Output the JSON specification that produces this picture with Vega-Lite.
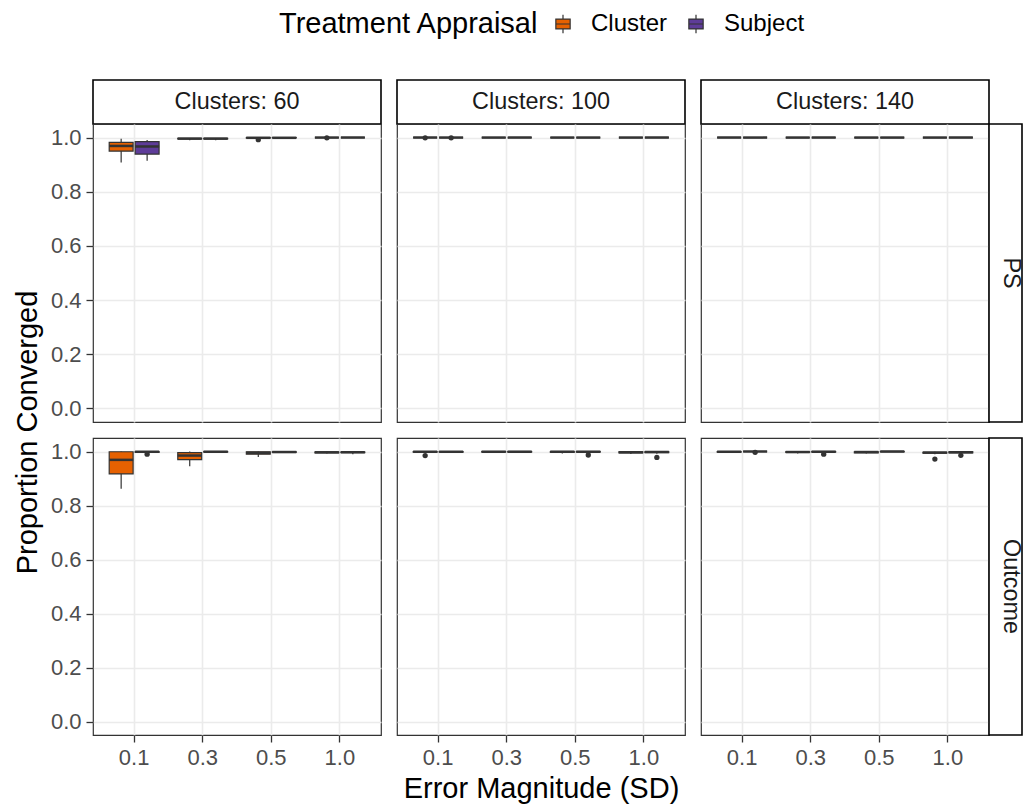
{
  "$schema": "https://vega.github.io/schema/vega-lite/v6.json",
  "usermeta": {"embedOptions": {"actions": false}},
  "padding": {"left": 12, "top": 12, "right": 0, "bottom": 0},
  "datasets": {
    "boxes": [
      {"c": 60, "m": "PS", "err": "0.1", "appraisal": "Cluster", "lo": 0.908, "q1": 0.950, "med": 0.969, "q3": 0.982, "hi": 0.996},
      {"c": 60, "m": "PS", "err": "0.1", "appraisal": "Subject", "lo": 0.914, "q1": 0.939, "med": 0.967, "q3": 0.985, "hi": 0.991},
      {"c": 60, "m": "PS", "err": "0.3", "appraisal": "Cluster", "lo": 0.990, "q1": 0.995, "med": 0.996, "q3": 0.997, "hi": 0.998},
      {"c": 60, "m": "PS", "err": "0.3", "appraisal": "Subject", "lo": 0.990, "q1": 0.995, "med": 0.996, "q3": 0.997, "hi": 0.998},
      {"c": 60, "m": "PS", "err": "0.5", "appraisal": "Cluster", "lo": 0.997, "q1": 0.998, "med": 0.999, "q3": 1, "hi": 1},
      {"c": 60, "m": "PS", "err": "0.5", "appraisal": "Subject", "lo": 0.998, "q1": 0.999, "med": 0.999, "q3": 1, "hi": 1},
      {"c": 60, "m": "PS", "err": "1.0", "appraisal": "Cluster", "lo": 1, "q1": 1, "med": 1, "q3": 1, "hi": 1},
      {"c": 60, "m": "PS", "err": "1.0", "appraisal": "Subject", "lo": 1, "q1": 1, "med": 1, "q3": 1, "hi": 1},
      {"c": 100, "m": "PS", "err": "0.1", "appraisal": "Cluster", "lo": 1, "q1": 1, "med": 1, "q3": 1, "hi": 1},
      {"c": 100, "m": "PS", "err": "0.1", "appraisal": "Subject", "lo": 1, "q1": 1, "med": 1, "q3": 1, "hi": 1},
      {"c": 100, "m": "PS", "err": "0.3", "appraisal": "Cluster", "lo": 1, "q1": 1, "med": 1, "q3": 1, "hi": 1},
      {"c": 100, "m": "PS", "err": "0.3", "appraisal": "Subject", "lo": 1, "q1": 1, "med": 1, "q3": 1, "hi": 1},
      {"c": 100, "m": "PS", "err": "0.5", "appraisal": "Cluster", "lo": 1, "q1": 1, "med": 1, "q3": 1, "hi": 1},
      {"c": 100, "m": "PS", "err": "0.5", "appraisal": "Subject", "lo": 1, "q1": 1, "med": 1, "q3": 1, "hi": 1},
      {"c": 100, "m": "PS", "err": "1.0", "appraisal": "Cluster", "lo": 1, "q1": 1, "med": 1, "q3": 1, "hi": 1},
      {"c": 100, "m": "PS", "err": "1.0", "appraisal": "Subject", "lo": 1, "q1": 1, "med": 1, "q3": 1, "hi": 1},
      {"c": 140, "m": "PS", "err": "0.1", "appraisal": "Cluster", "lo": 1, "q1": 1, "med": 1, "q3": 1, "hi": 1},
      {"c": 140, "m": "PS", "err": "0.1", "appraisal": "Subject", "lo": 1, "q1": 1, "med": 1, "q3": 1, "hi": 1},
      {"c": 140, "m": "PS", "err": "0.3", "appraisal": "Cluster", "lo": 1, "q1": 1, "med": 1, "q3": 1, "hi": 1},
      {"c": 140, "m": "PS", "err": "0.3", "appraisal": "Subject", "lo": 1, "q1": 1, "med": 1, "q3": 1, "hi": 1},
      {"c": 140, "m": "PS", "err": "0.5", "appraisal": "Cluster", "lo": 1, "q1": 1, "med": 1, "q3": 1, "hi": 1},
      {"c": 140, "m": "PS", "err": "0.5", "appraisal": "Subject", "lo": 1, "q1": 1, "med": 1, "q3": 1, "hi": 1},
      {"c": 140, "m": "PS", "err": "1.0", "appraisal": "Cluster", "lo": 1, "q1": 1, "med": 1, "q3": 1, "hi": 1},
      {"c": 140, "m": "PS", "err": "1.0", "appraisal": "Subject", "lo": 1, "q1": 1, "med": 1, "q3": 1, "hi": 1},
      {"c": 60, "m": "Outcome", "err": "0.1", "appraisal": "Cluster", "lo": 0.862, "q1": 0.917, "med": 0.969, "q3": 0.999, "hi": 1},
      {"c": 60, "m": "Outcome", "err": "0.1", "appraisal": "Subject", "lo": 0.995, "q1": 0.997, "med": 0.999, "q3": 1, "hi": 1},
      {"c": 60, "m": "Outcome", "err": "0.3", "appraisal": "Cluster", "lo": 0.945, "q1": 0.970, "med": 0.985, "q3": 0.996, "hi": 1},
      {"c": 60, "m": "Outcome", "err": "0.3", "appraisal": "Subject", "lo": 0.997, "q1": 0.998, "med": 0.999, "q3": 1, "hi": 1},
      {"c": 60, "m": "Outcome", "err": "0.5", "appraisal": "Cluster", "lo": 0.980, "q1": 0.990, "med": 0.995, "q3": 0.999, "hi": 1},
      {"c": 60, "m": "Outcome", "err": "0.5", "appraisal": "Subject", "lo": 0.996, "q1": 0.997, "med": 0.998, "q3": 0.999, "hi": 1},
      {"c": 60, "m": "Outcome", "err": "1.0", "appraisal": "Cluster", "lo": 0.993, "q1": 0.995, "med": 0.997, "q3": 0.998, "hi": 1},
      {"c": 60, "m": "Outcome", "err": "1.0", "appraisal": "Subject", "lo": 0.990, "q1": 0.996, "med": 0.997, "q3": 0.998, "hi": 1},
      {"c": 100, "m": "Outcome", "err": "0.1", "appraisal": "Cluster", "lo": 0.996, "q1": 0.998, "med": 0.999, "q3": 1, "hi": 1},
      {"c": 100, "m": "Outcome", "err": "0.1", "appraisal": "Subject", "lo": 0.997, "q1": 0.998, "med": 0.999, "q3": 1, "hi": 1},
      {"c": 100, "m": "Outcome", "err": "0.3", "appraisal": "Cluster", "lo": 0.997, "q1": 0.998, "med": 0.999, "q3": 1, "hi": 1},
      {"c": 100, "m": "Outcome", "err": "0.3", "appraisal": "Subject", "lo": 0.995, "q1": 0.998, "med": 0.999, "q3": 1, "hi": 1},
      {"c": 100, "m": "Outcome", "err": "0.5", "appraisal": "Cluster", "lo": 0.993, "q1": 0.997, "med": 0.999, "q3": 1, "hi": 1},
      {"c": 100, "m": "Outcome", "err": "0.5", "appraisal": "Subject", "lo": 0.995, "q1": 0.998, "med": 0.999, "q3": 1, "hi": 1},
      {"c": 100, "m": "Outcome", "err": "1.0", "appraisal": "Cluster", "lo": 0.991, "q1": 0.995, "med": 0.997, "q3": 0.999, "hi": 1},
      {"c": 100, "m": "Outcome", "err": "1.0", "appraisal": "Subject", "lo": 0.992, "q1": 0.996, "med": 0.998, "q3": 0.999, "hi": 1},
      {"c": 140, "m": "Outcome", "err": "0.1", "appraisal": "Cluster", "lo": 0.996, "q1": 0.998, "med": 0.999, "q3": 1, "hi": 1},
      {"c": 140, "m": "Outcome", "err": "0.1", "appraisal": "Subject", "lo": 1, "q1": 1, "med": 1, "q3": 1, "hi": 1},
      {"c": 140, "m": "Outcome", "err": "0.3", "appraisal": "Cluster", "lo": 0.993, "q1": 0.997, "med": 0.998, "q3": 0.999, "hi": 1},
      {"c": 140, "m": "Outcome", "err": "0.3", "appraisal": "Subject", "lo": 0.996, "q1": 0.998, "med": 0.999, "q3": 1, "hi": 1},
      {"c": 140, "m": "Outcome", "err": "0.5", "appraisal": "Cluster", "lo": 0.993, "q1": 0.995, "med": 0.998, "q3": 0.999, "hi": 1},
      {"c": 140, "m": "Outcome", "err": "0.5", "appraisal": "Subject", "lo": 0.998, "q1": 0.999, "med": 1, "q3": 1, "hi": 1},
      {"c": 140, "m": "Outcome", "err": "1.0", "appraisal": "Cluster", "lo": 0.990, "q1": 0.994, "med": 0.996, "q3": 0.997, "hi": 0.999},
      {"c": 140, "m": "Outcome", "err": "1.0", "appraisal": "Subject", "lo": 0.992, "q1": 0.995, "med": 0.997, "q3": 0.999, "hi": 1}
    ],
    "outliers": [
      {"c": 60, "m": "PS", "err": "0.5", "appraisal": "Cluster", "v": 0.992},
      {"c": 60, "m": "PS", "err": "1.0", "appraisal": "Cluster", "v": 0.999},
      {"c": 100, "m": "PS", "err": "0.1", "appraisal": "Cluster", "v": 0.999},
      {"c": 100, "m": "PS", "err": "0.1", "appraisal": "Subject", "v": 0.999},
      {"c": 60, "m": "Outcome", "err": "0.1", "appraisal": "Subject", "v": 0.990},
      {"c": 100, "m": "Outcome", "err": "0.1", "appraisal": "Cluster", "v": 0.985},
      {"c": 100, "m": "Outcome", "err": "0.5", "appraisal": "Subject", "v": 0.987},
      {"c": 100, "m": "Outcome", "err": "1.0", "appraisal": "Subject", "v": 0.978},
      {"c": 140, "m": "Outcome", "err": "0.1", "appraisal": "Subject", "v": 0.997},
      {"c": 140, "m": "Outcome", "err": "0.3", "appraisal": "Subject", "v": 0.990},
      {"c": 140, "m": "Outcome", "err": "1.0", "appraisal": "Cluster", "v": 0.972},
      {"c": 140, "m": "Outcome", "err": "1.0", "appraisal": "Subject", "v": 0.986}
    ],
    "strips": [
      {"label": "Clusters: 60"},
      {"label": "Clusters: 100"},
      {"label": "Clusters: 140"},
      {"label": "PS"},
      {"label": "Outcome"}
    ]
  },
  "resolve": {
    "scale": {"x": "independent", "y": "independent", "fill": "shared"},
    "axis": {"x": "independent", "y": "independent"},
    "legend": {"fill": "shared"}
  },
  "columns": 6,
  "spacing": 0,
  "bounds": "flush",
  "concat": [
    {"width": 288, "height": 44, "data": {"name": "strips"}, "transform": [{"filter": "datum.label === 'Clusters: 60'"}], "mark": {"type": "text", "fontSize": 23.4, "color": "#1A1A1A"}, "encoding": {"text": {"field": "label"}}, "view": {"stroke": "#000000", "strokeWidth": 1.6, "fill": "#FFFFFF"}},
    {"width": 16, "height": 1, "data": {"values": []}, "mark": "point", "view": {"stroke": null}},
    {"width": 288, "height": 44, "data": {"name": "strips"}, "transform": [{"filter": "datum.label === 'Clusters: 100'"}], "mark": {"type": "text", "fontSize": 23.4, "color": "#1A1A1A"}, "encoding": {"text": {"field": "label"}}, "view": {"stroke": "#000000", "strokeWidth": 1.6, "fill": "#FFFFFF"}},
    {"width": 16, "height": 1, "data": {"values": []}, "mark": "point", "view": {"stroke": null}},
    {"width": 288, "height": 44, "data": {"name": "strips"}, "transform": [{"filter": "datum.label === 'Clusters: 140'"}], "mark": {"type": "text", "fontSize": 23.4, "color": "#1A1A1A"}, "encoding": {"text": {"field": "label"}}, "view": {"stroke": "#000000", "strokeWidth": 1.6, "fill": "#FFFFFF"}},
    {"width": 1, "height": 1, "data": {"values": []}, "mark": "point", "view": {"stroke": null}},

    {
      "width": 288, "height": 298,
      "encoding": {
        "x": {"field": "err", "type": "nominal", "title": null, "scale": {"domain": ["0.1", "0.3", "0.5", "1.0"], "paddingInner": 0, "paddingOuter": 0.1}, "axis": {"bandPosition": 0.5, "grid": true, "gridWidth": 1.6, "labels": false, "ticks": false}},
        "xOffset": {"field": "appraisal", "type": "nominal", "scale": {"domain": ["Cluster", "Subject"], "paddingInner": 0.08, "paddingOuter": 0.36}}
      },
      "layer": [
        {"data": {"name": "boxes"}, "transform": [{"filter": "datum.c === 60 && datum.m === 'PS'"}], "mark": {"type": "rule", "color": "#333333", "strokeWidth": 1.2}, "encoding": {"y": {"field": "lo", "type": "quantitative", "title": "Proportion Converged", "scale": {"domain": [-0.05, 1.05], "nice": false, "zero": false}, "axis": {"values": [0, 0.1, 0.2, 0.3, 0.4, 0.5, 0.6, 0.7, 0.8, 0.9, 1], "labelExpr": "round(datum.value * 10) % 2 === 1 ? '' : format(datum.value, '.1f')", "tickOpacity": {"condition": {"test": "round(datum.value * 10) % 2 === 1", "value": 0}, "value": 1}, "gridWidth": {"condition": {"test": "round(datum.value * 10) % 2 === 1", "value": 0.8}, "value": 1.6}, "titleY": 308}}, "y2": {"field": "hi"}}},
        {"data": {"name": "boxes"}, "transform": [{"filter": "datum.c === 60 && datum.m === 'PS'"}], "mark": {"type": "bar", "stroke": "#333333", "strokeWidth": 1.2}, "encoding": {"y": {"field": "q1", "type": "quantitative", "title": "Proportion Converged"}, "y2": {"field": "q3"}, "fill": {"field": "appraisal", "type": "nominal", "title": "Treatment Appraisal"}}},
        {"data": {"name": "boxes"}, "transform": [{"filter": "datum.c === 60 && datum.m === 'PS'"}], "mark": {"type": "tick", "orient": "horizontal", "size": 24, "thickness": 2.5, "color": "#333333", "opacity": 1}, "encoding": {"y": {"field": "med", "type": "quantitative", "title": "Proportion Converged"}}},
        {"data": {"name": "outliers"}, "transform": [{"filter": "datum.c === 60 && datum.m === 'PS'"}], "mark": {"type": "point", "filled": true, "size": 28, "color": "#333333", "opacity": 1}, "encoding": {"y": {"field": "v", "type": "quantitative", "title": "Proportion Converged"}}}
      ]
    },
    {"width": 16, "height": 1, "data": {"values": []}, "mark": "point", "view": {"stroke": null}},
    {
      "width": 288, "height": 298,
      "encoding": {
        "x": {"field": "err", "type": "nominal", "title": null, "scale": {"domain": ["0.1", "0.3", "0.5", "1.0"], "paddingInner": 0, "paddingOuter": 0.1}, "axis": {"bandPosition": 0.5, "grid": true, "gridWidth": 1.6, "labels": false, "ticks": false}},
        "xOffset": {"field": "appraisal", "type": "nominal", "scale": {"domain": ["Cluster", "Subject"], "paddingInner": 0.08, "paddingOuter": 0.36}}
      },
      "layer": [
        {"data": {"name": "boxes"}, "transform": [{"filter": "datum.c === 100 && datum.m === 'PS'"}], "mark": {"type": "rule", "color": "#333333", "strokeWidth": 1.2}, "encoding": {"y": {"field": "lo", "type": "quantitative", "title": null, "scale": {"domain": [-0.05, 1.05], "nice": false, "zero": false}, "axis": {"values": [0, 0.1, 0.2, 0.3, 0.4, 0.5, 0.6, 0.7, 0.8, 0.9, 1], "labels": false, "ticks": false, "gridWidth": {"condition": {"test": "round(datum.value * 10) % 2 === 1", "value": 0.8}, "value": 1.6}}}, "y2": {"field": "hi"}}},
        {"data": {"name": "boxes"}, "transform": [{"filter": "datum.c === 100 && datum.m === 'PS'"}], "mark": {"type": "bar", "stroke": "#333333", "strokeWidth": 1.2}, "encoding": {"y": {"field": "q1", "type": "quantitative", "title": null}, "y2": {"field": "q3"}, "fill": {"field": "appraisal", "type": "nominal", "title": "Treatment Appraisal"}}},
        {"data": {"name": "boxes"}, "transform": [{"filter": "datum.c === 100 && datum.m === 'PS'"}], "mark": {"type": "tick", "orient": "horizontal", "size": 24, "thickness": 2.5, "color": "#333333", "opacity": 1}, "encoding": {"y": {"field": "med", "type": "quantitative", "title": null}}},
        {"data": {"name": "outliers"}, "transform": [{"filter": "datum.c === 100 && datum.m === 'PS'"}], "mark": {"type": "point", "filled": true, "size": 28, "color": "#333333", "opacity": 1}, "encoding": {"y": {"field": "v", "type": "quantitative", "title": null}}}
      ]
    },
    {"width": 16, "height": 1, "data": {"values": []}, "mark": "point", "view": {"stroke": null}},
    {
      "width": 288, "height": 298,
      "encoding": {
        "x": {"field": "err", "type": "nominal", "title": null, "scale": {"domain": ["0.1", "0.3", "0.5", "1.0"], "paddingInner": 0, "paddingOuter": 0.1}, "axis": {"bandPosition": 0.5, "grid": true, "gridWidth": 1.6, "labels": false, "ticks": false}},
        "xOffset": {"field": "appraisal", "type": "nominal", "scale": {"domain": ["Cluster", "Subject"], "paddingInner": 0.08, "paddingOuter": 0.36}}
      },
      "layer": [
        {"data": {"name": "boxes"}, "transform": [{"filter": "datum.c === 140 && datum.m === 'PS'"}], "mark": {"type": "rule", "color": "#333333", "strokeWidth": 1.2}, "encoding": {"y": {"field": "lo", "type": "quantitative", "title": null, "scale": {"domain": [-0.05, 1.05], "nice": false, "zero": false}, "axis": {"values": [0, 0.1, 0.2, 0.3, 0.4, 0.5, 0.6, 0.7, 0.8, 0.9, 1], "labels": false, "ticks": false, "gridWidth": {"condition": {"test": "round(datum.value * 10) % 2 === 1", "value": 0.8}, "value": 1.6}}}, "y2": {"field": "hi"}}},
        {"data": {"name": "boxes"}, "transform": [{"filter": "datum.c === 140 && datum.m === 'PS'"}], "mark": {"type": "bar", "stroke": "#333333", "strokeWidth": 1.2}, "encoding": {"y": {"field": "q1", "type": "quantitative", "title": null}, "y2": {"field": "q3"}, "fill": {"field": "appraisal", "type": "nominal", "title": "Treatment Appraisal"}}},
        {"data": {"name": "boxes"}, "transform": [{"filter": "datum.c === 140 && datum.m === 'PS'"}], "mark": {"type": "tick", "orient": "horizontal", "size": 24, "thickness": 2.5, "color": "#333333", "opacity": 1}, "encoding": {"y": {"field": "med", "type": "quantitative", "title": null}}},
        {"data": {"name": "outliers"}, "transform": [{"filter": "datum.c === 140 && datum.m === 'PS'"}], "mark": {"type": "point", "filled": true, "size": 28, "color": "#333333", "opacity": 1}, "encoding": {"y": {"field": "v", "type": "quantitative", "title": null}}}
      ]
    },
    {"width": 33, "height": 298, "data": {"name": "strips"}, "transform": [{"filter": "datum.label === 'PS'"}], "mark": {"type": "text", "fontSize": 23.4, "color": "#1A1A1A", "angle": 90, "dy": -5}, "encoding": {"text": {"field": "label"}}, "view": {"stroke": "#000000", "strokeWidth": 1.6, "fill": "#FFFFFF"}},

    {"width": 1, "height": 15.5, "data": {"values": []}, "mark": "point", "view": {"stroke": null}},
    {"width": 16, "height": 15.5, "data": {"values": []}, "mark": "point", "view": {"stroke": null}},
    {"width": 1, "height": 15.5, "data": {"values": []}, "mark": "point", "view": {"stroke": null}},
    {"width": 16, "height": 15.5, "data": {"values": []}, "mark": "point", "view": {"stroke": null}},
    {"width": 1, "height": 15.5, "data": {"values": []}, "mark": "point", "view": {"stroke": null}},
    {"width": 1, "height": 15.5, "data": {"values": []}, "mark": "point", "view": {"stroke": null}},

    {
      "width": 288, "height": 297,
      "encoding": {
        "x": {"field": "err", "type": "nominal", "title": null, "scale": {"domain": ["0.1", "0.3", "0.5", "1.0"], "paddingInner": 0, "paddingOuter": 0.1}, "axis": {"bandPosition": 0.5, "grid": true, "gridWidth": 1.6, "labelAngle": 0}},
        "xOffset": {"field": "appraisal", "type": "nominal", "scale": {"domain": ["Cluster", "Subject"], "paddingInner": 0.08, "paddingOuter": 0.36}}
      },
      "layer": [
        {"data": {"name": "boxes"}, "transform": [{"filter": "datum.c === 60 && datum.m === 'Outcome'"}], "mark": {"type": "rule", "color": "#333333", "strokeWidth": 1.2}, "encoding": {"y": {"field": "lo", "type": "quantitative", "title": null, "scale": {"domain": [-0.05, 1.05], "nice": false, "zero": false}, "axis": {"values": [0, 0.1, 0.2, 0.3, 0.4, 0.5, 0.6, 0.7, 0.8, 0.9, 1], "labelExpr": "round(datum.value * 10) % 2 === 1 ? '' : format(datum.value, '.1f')", "tickOpacity": {"condition": {"test": "round(datum.value * 10) % 2 === 1", "value": 0}, "value": 1}, "gridWidth": {"condition": {"test": "round(datum.value * 10) % 2 === 1", "value": 0.8}, "value": 1.6}}}, "y2": {"field": "hi"}}},
        {"data": {"name": "boxes"}, "transform": [{"filter": "datum.c === 60 && datum.m === 'Outcome'"}], "mark": {"type": "bar", "stroke": "#333333", "strokeWidth": 1.2}, "encoding": {"y": {"field": "q1", "type": "quantitative", "title": null}, "y2": {"field": "q3"}, "fill": {"field": "appraisal", "type": "nominal", "title": "Treatment Appraisal"}}},
        {"data": {"name": "boxes"}, "transform": [{"filter": "datum.c === 60 && datum.m === 'Outcome'"}], "mark": {"type": "tick", "orient": "horizontal", "size": 24, "thickness": 2.5, "color": "#333333", "opacity": 1}, "encoding": {"y": {"field": "med", "type": "quantitative", "title": null}}},
        {"data": {"name": "outliers"}, "transform": [{"filter": "datum.c === 60 && datum.m === 'Outcome'"}], "mark": {"type": "point", "filled": true, "size": 28, "color": "#333333", "opacity": 1}, "encoding": {"y": {"field": "v", "type": "quantitative", "title": null}}}
      ]
    },
    {"width": 16, "height": 1, "data": {"values": []}, "mark": "point", "view": {"stroke": null}},
    {
      "width": 288, "height": 297,
      "encoding": {
        "x": {"field": "err", "type": "nominal", "title": "Error Magnitude (SD)", "scale": {"domain": ["0.1", "0.3", "0.5", "1.0"], "paddingInner": 0, "paddingOuter": 0.1}, "axis": {"bandPosition": 0.5, "grid": true, "gridWidth": 1.6, "labelAngle": 0, "titlePadding": 6}},
        "xOffset": {"field": "appraisal", "type": "nominal", "scale": {"domain": ["Cluster", "Subject"], "paddingInner": 0.08, "paddingOuter": 0.36}}
      },
      "layer": [
        {"data": {"name": "boxes"}, "transform": [{"filter": "datum.c === 100 && datum.m === 'Outcome'"}], "mark": {"type": "rule", "color": "#333333", "strokeWidth": 1.2}, "encoding": {"y": {"field": "lo", "type": "quantitative", "title": null, "scale": {"domain": [-0.05, 1.05], "nice": false, "zero": false}, "axis": {"values": [0, 0.1, 0.2, 0.3, 0.4, 0.5, 0.6, 0.7, 0.8, 0.9, 1], "labels": false, "ticks": false, "gridWidth": {"condition": {"test": "round(datum.value * 10) % 2 === 1", "value": 0.8}, "value": 1.6}}}, "y2": {"field": "hi"}}},
        {"data": {"name": "boxes"}, "transform": [{"filter": "datum.c === 100 && datum.m === 'Outcome'"}], "mark": {"type": "bar", "stroke": "#333333", "strokeWidth": 1.2}, "encoding": {"y": {"field": "q1", "type": "quantitative", "title": null}, "y2": {"field": "q3"}, "fill": {"field": "appraisal", "type": "nominal", "title": "Treatment Appraisal"}}},
        {"data": {"name": "boxes"}, "transform": [{"filter": "datum.c === 100 && datum.m === 'Outcome'"}], "mark": {"type": "tick", "orient": "horizontal", "size": 24, "thickness": 2.5, "color": "#333333", "opacity": 1}, "encoding": {"y": {"field": "med", "type": "quantitative", "title": null}}},
        {"data": {"name": "outliers"}, "transform": [{"filter": "datum.c === 100 && datum.m === 'Outcome'"}], "mark": {"type": "point", "filled": true, "size": 28, "color": "#333333", "opacity": 1}, "encoding": {"y": {"field": "v", "type": "quantitative", "title": null}}}
      ]
    },
    {"width": 16, "height": 1, "data": {"values": []}, "mark": "point", "view": {"stroke": null}},
    {
      "width": 288, "height": 297,
      "encoding": {
        "x": {"field": "err", "type": "nominal", "title": null, "scale": {"domain": ["0.1", "0.3", "0.5", "1.0"], "paddingInner": 0, "paddingOuter": 0.1}, "axis": {"bandPosition": 0.5, "grid": true, "gridWidth": 1.6, "labelAngle": 0}},
        "xOffset": {"field": "appraisal", "type": "nominal", "scale": {"domain": ["Cluster", "Subject"], "paddingInner": 0.08, "paddingOuter": 0.36}}
      },
      "layer": [
        {"data": {"name": "boxes"}, "transform": [{"filter": "datum.c === 140 && datum.m === 'Outcome'"}], "mark": {"type": "rule", "color": "#333333", "strokeWidth": 1.2}, "encoding": {"y": {"field": "lo", "type": "quantitative", "title": null, "scale": {"domain": [-0.05, 1.05], "nice": false, "zero": false}, "axis": {"values": [0, 0.1, 0.2, 0.3, 0.4, 0.5, 0.6, 0.7, 0.8, 0.9, 1], "labels": false, "ticks": false, "gridWidth": {"condition": {"test": "round(datum.value * 10) % 2 === 1", "value": 0.8}, "value": 1.6}}}, "y2": {"field": "hi"}}},
        {"data": {"name": "boxes"}, "transform": [{"filter": "datum.c === 140 && datum.m === 'Outcome'"}], "mark": {"type": "bar", "stroke": "#333333", "strokeWidth": 1.2}, "encoding": {"y": {"field": "q1", "type": "quantitative", "title": null}, "y2": {"field": "q3"}, "fill": {"field": "appraisal", "type": "nominal", "title": "Treatment Appraisal"}}},
        {"data": {"name": "boxes"}, "transform": [{"filter": "datum.c === 140 && datum.m === 'Outcome'"}], "mark": {"type": "tick", "orient": "horizontal", "size": 24, "thickness": 2.5, "color": "#333333", "opacity": 1}, "encoding": {"y": {"field": "med", "type": "quantitative", "title": null}}},
        {"data": {"name": "outliers"}, "transform": [{"filter": "datum.c === 140 && datum.m === 'Outcome'"}], "mark": {"type": "point", "filled": true, "size": 28, "color": "#333333", "opacity": 1}, "encoding": {"y": {"field": "v", "type": "quantitative", "title": null}}}
      ]
    },
    {"width": 33, "height": 297, "data": {"name": "strips"}, "transform": [{"filter": "datum.label === 'Outcome'"}], "mark": {"type": "text", "fontSize": 23.4, "color": "#1A1A1A", "angle": 90, "dy": -5}, "encoding": {"text": {"field": "label"}}, "view": {"stroke": "#000000", "strokeWidth": 1.6, "fill": "#FFFFFF"}}
  ],
  "config": {
    "font": "Liberation Sans",
    "background": "#FFFFFF",
    "view": {"stroke": "#333333", "strokeWidth": 1.2},
    "axis": {
      "domain": false,
      "grid": true,
      "gridColor": "#EBEBEB",
      "tickColor": "#333333",
      "tickSize": 7,
      "tickWidth": 1.3,
      "labelFontSize": 22,
      "labelColor": "#4D4D4D",
      "labelPadding": 5,
      "titleFontSize": 29,
      "titleFontWeight": "normal",
      "titleColor": "#000000",
      "titlePadding": 8
    },
    "range": {"category": ["#E66101", "#5E3C99"]},
    "legend": {
      "orient": "none",
      "legendX": 186,
      "legendY": -68,
      "direction": "horizontal",
      "titleOrient": "left",
      "titleFontSize": 29,
      "titleFontWeight": "normal",
      "titleColor": "#000000",
      "titleLimit": 600,
      "titlePadding": 11,
      "labelFontSize": 24,
      "labelColor": "#000000",
      "labelOffset": 16,
      "labelLimit": 300,
      "columnPadding": 16,
      "symbolType": "M-0.65,-0.45H0.65V0.45H-0.65Z M-0.65,0H0.65 M0,-0.45V-0.85 M0,0.45V0.85",
      "symbolSize": 484,
      "symbolStrokeColor": "#333333",
      "symbolStrokeWidth": 1.2,
      "symbolOpacity": 1
    }
  }
}
